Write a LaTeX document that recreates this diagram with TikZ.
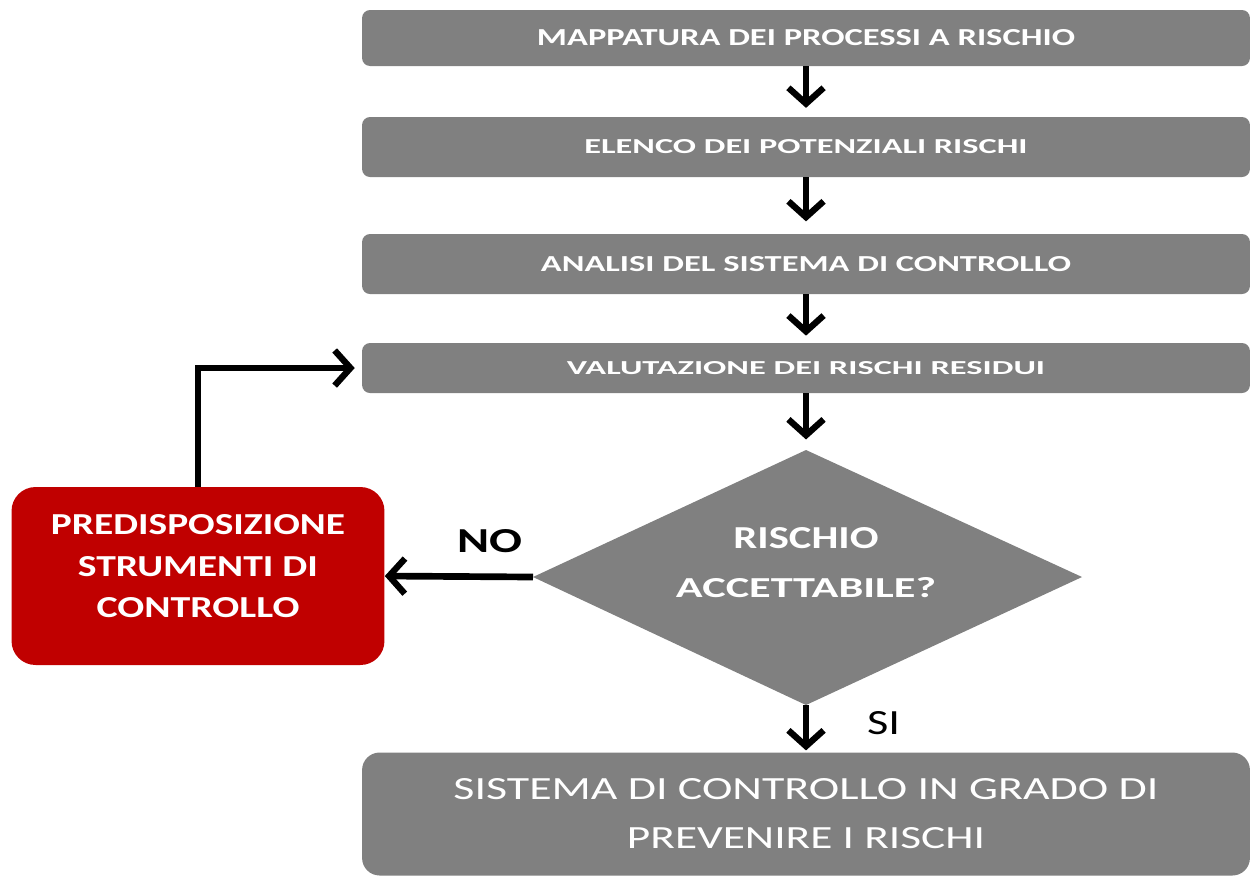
\documentclass[tikz,border=0pt]{standalone}
\usepackage{fontspec}
\setmainfont{Carlito}
\usetikzlibrary{arrows.meta}
\definecolor{boxgray}{HTML}{808080}
\definecolor{boxred}{HTML}{C00000}
\newlength\pxu
\setlength\pxu{0.02cm}
\newcommand\fitbox[3]{\resizebox{#1\pxu}{#2\pxu}{#3}}
\begin{document}
\begin{tikzpicture}[x=0.02cm,y=-0.02cm,
  stepbox/.style={draw=none,fill=boxgray,rounded corners=4.5pt,minimum width=17.76cm,
    text=white,font=\bfseries,inner sep=0pt,align=center},
  txt/.style={text=white,inner sep=0pt,align=center},
  flowarrow/.style={line width=3.8pt,-{Straight Barb[length=9pt,width=20pt,line width=3.6pt]}},
  lbl/.style={text=black,inner sep=0pt}]
\useasboundingbox (0,0) rectangle (1253,877);
% boxes
\node[stepbox,minimum height=1.12cm] (b1) at (806,38) {\fitbox{538}{16}{MAPPATURA DEI PROCESSI A RISCHIO}};
\node[stepbox,minimum height=1.2cm] (b2) at (806,147) {\fitbox{443}{14}{ELENCO DEI POTENZIALI RISCHI}};
\node[stepbox,minimum height=1.2cm] (b3) at (806,264) {\fitbox{530}{15}{ANALISI DEL SISTEMA DI CONTROLLO}};
\node[stepbox,minimum height=1.0cm] (b4) at (806,368) {\fitbox{478}{13}{VALUTAZIONE DEI RISCHI RESIDUI}};
% decision diamond
\coordinate (dn) at (806,450);
\coordinate (de) at (1082,577);
\coordinate (ds) at (806,705);
\coordinate (dw) at (533,577);
\fill[boxgray] (dn) -- (de) -- (ds) -- (dw) -- cycle;
\node[txt,font={\fontsize{10pt}{0.97cm}\selectfont\bfseries}] (d) at (806,562.5)
  {\fitbox{145}{21}{RISCHIO}\\\fitbox{260}{20}{ACCETTABILE?}};
% final box
\node[stepbox,rounded corners=0.35cm,minimum height=2.46cm,font={\fontsize{10pt}{0.98cm}\selectfont}] (b5) at (806,814)
  {\fitbox{705}{21}{SISTEMA DI CONTROLLO IN GRADO DI}\\\fitbox{358}{21}{PREVENIRE I RISCHI}};
% red box
\node[draw=none,fill=boxred,rounded corners=0.48cm,minimum width=7.46cm,minimum height=3.56cm,
  inner sep=0pt] (r) at (198,576) {};
\node[txt,font={\fontsize{10pt}{0.83cm}\selectfont\bfseries}] (rt) at (198,566.5)
  {\fitbox{294}{20}{PREDISPOSIZIONE}\\\fitbox{240}{20}{STRUMENTI DI}\\\fitbox{203}{20}{CONTROLLO}};
% connectors
\draw[flowarrow,shorten >=5pt] (b1) -- (b2);
\draw[flowarrow,shorten >=7pt] (b2) -- (b3);
\draw[flowarrow,shorten >=4pt] (b3) -- (b4);
\draw[flowarrow,shorten >=6pt] (b4) -- (dn);
\draw[flowarrow,shorten >=1pt] (ds) -- (b5);
\draw[flowarrow] (dw) -- (r.east);
\draw[flowarrow,shorten >=4pt] (r.north) |- (b4.west);
% labels
\node[lbl,font=\bfseries] (no) at (489.5,541.5) {\fitbox{65}{23}{NO}};
\node[lbl] (si) at (883.5,723.5) {\fitbox{33}{23}{SI}};
\end{tikzpicture}
\end{document}
